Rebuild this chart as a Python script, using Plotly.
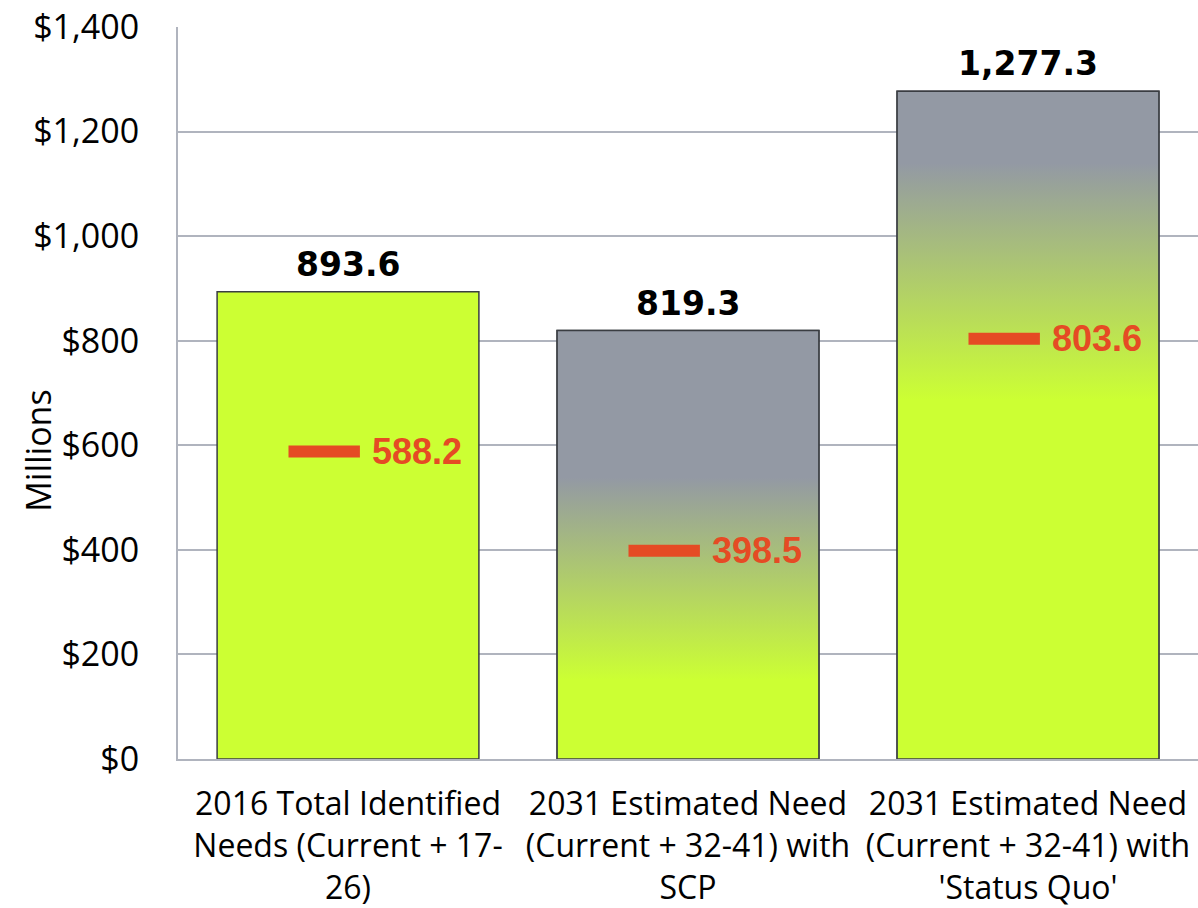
import plotly.graph_objects as go

# Chart data
categories = [
    "2016 Total Identified<br>Needs (Current + 17-<br>26)",
    "2031 Estimated Need<br>(Current + 32-41) with<br>SCP",
    "2031 Estimated Need<br>(Current + 32-41) with<br>'Status Quo'",
]
total_need = [893.6, 819.3, 1277.3]
funded_level = [588.2, 398.5, 803.6]
y_ticks = [0, 200, 400, 600, 800, 1000, 1200, 1400]

# Where the green-to-gray blend sits inside each bar (value units); None = solid green
blend_low = [None, 151, 687]
blend_high = [None, 539, 1140]

GREEN = "#CCFF33"
GRAY = "#9399A4"
ORANGE = "#E54B24"
OUTLINE = "#3A3D42"
GRID = "#B0B4BE"
BAR_W = 0.77
MARK_DX = -0.07

xs = list(range(len(categories)))

fig = go.Figure()

fig.add_trace(go.Bar(
    x=xs, y=total_need, width=BAR_W,
    marker=dict(color=GREEN, line=dict(color=OUTLINE, width=1.5)),
    showlegend=False, hoverinfo="y",
))

# Gradient overlays for the bars that fade from green into gray
for i, v in enumerate(total_need):
    if blend_low[i] is None:
        continue
    lo = blend_low[i] / v
    hi = blend_high[i] / v
    x0, x1 = i - BAR_W / 2, i + BAR_W / 2
    fig.add_trace(go.Scatter(
        x=[x0, x1, x1, x0, x0], y=[0, 0, v, v, 0],
        mode="lines", fill="toself",
        fillgradient=dict(type="vertical",
                          colorscale=[[0, GREEN], [lo, GREEN], [hi, GRAY], [1, GRAY]]),
        line=dict(color=OUTLINE, width=1.5),
        showlegend=False, hoverinfo="skip",
    ))

# Orange level markers (line-ew length is 1.4 x marker size)
fig.add_trace(go.Scatter(
    x=[i + MARK_DX for i in xs], y=funded_level, mode="markers",
    marker=dict(symbol="line-ew", size=51, line=dict(color=ORANGE, width=12)),
    showlegend=False, hoverinfo="y",
))

for i, v in enumerate(funded_level):
    fig.add_annotation(
        x=i + MARK_DX, y=v, text=f"<b>{v:,.1f}</b>", showarrow=False,
        xanchor="left", yanchor="middle", xshift=46,
        font=dict(family="Liberation Sans", size=36, color=ORANGE),
    )

for i, v in enumerate(total_need):
    fig.add_annotation(
        x=i, y=v, text=f"<b>{v:,.1f}</b>", showarrow=False,
        xanchor="center", yanchor="bottom", yshift=6,
        font=dict(family="DejaVu Sans", size=33, color="black"),
    )

# Vertical axis title
fig.add_annotation(
    xref="paper", yref="y", x=-0.138, y=590, text="Millions",
    textangle=-90, showarrow=False, xanchor="center", yanchor="middle",
    font=dict(family="Open Sans", size=34, color="black"),
)

fig.update_layout(
    width=1198, height=908,
    margin=dict(l=178, r=0, t=27, b=149),
    plot_bgcolor="white", paper_bgcolor="white",
)

fig.update_xaxes(
    range=[-0.5, 2.5], tickvals=xs, ticktext=categories,
    showgrid=False, zeroline=False, ticks="",
    showline=True, linecolor=GRID, linewidth=2,
    tickfont=dict(family="Open Sans", size=32, color="black"),
    ticklabelstandoff=16, automargin=False,
)

fig.update_yaxes(
    range=[0, 1400], tickvals=y_ticks,
    ticktext=[f"${t:,}" for t in y_ticks],
    showgrid=True, gridcolor=GRID, gridwidth=2,
    zeroline=False, showline=True, linecolor=GRID, linewidth=2,
    ticks="", ticklabelstandoff=30, automargin=False,
    tickfont=dict(family="Open Sans", size=34, color="black"),
)

fig.write_html("out.html")
